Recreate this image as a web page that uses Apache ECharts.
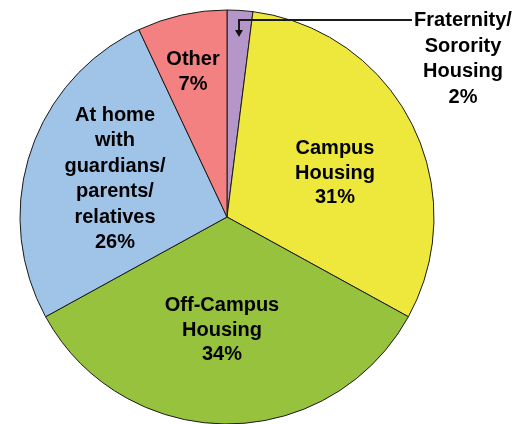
<!DOCTYPE html>
<html>
<head>
<meta charset="utf-8">
<script src="https://cdn.jsdelivr.net/npm/echarts@6/dist/echarts.min.js"></script>
<style>
  html, body { margin: 0; padding: 0; background: #fff; }
  #chart { width: 527px; height: 424px; }
</style>
</head>
<body>
<div id="chart"></div>
<script>
var categories = [
  'Fraternity/\nSorority\nHousing',
  'Campus\nHousing',
  'Off-Campus\nHousing',
  'At home\nwith\nguardians/\nparents/\nrelatives',
  'Other'
];
var shares = [2, 31, 34, 26, 7];

var sliceColors = ['#B596C8', '#EEE83D', '#97C23D', '#A0C4E8', '#F38181'];
// where each label block sits (centre)
var labelSpots = [[463, 59], [335, 173], [222, 330], [115, 179], [193, 72]];
var lineHeights = [25.5, 24.5, 24.5, 25.5, 25.5];

var chart = echarts.init(document.getElementById('chart'));

chart.setOption({
  animation: false,
  graphic: [{
    // callout arrow for the small slice
    type: 'polyline',
    shape: { points: [[412, 20], [239, 20], [239, 31]] },
    style: { stroke: '#1a1a1a', lineWidth: 2, fill: null },
    z: 100
  }, {
    type: 'polygon',
    shape: { points: [[235, 30], [243, 30], [239, 37]] },
    style: { fill: '#111' },
    z: 100
  }],
  series: [{
    type: 'pie',
    center: [227, 217],
    radius: 207,
    startAngle: 90,
    clockwise: true,
    avoidLabelOverlap: false,
    itemStyle: { borderColor: '#1a1a1a', borderWidth: 1 },
    label: {
      show: true,
      position: 'inside',
      formatter: '{b}\n{c}%',
      color: '#000',
      fontWeight: 'bold',
      fontSize: 20,
      fontFamily: 'Liberation Sans, Arial, sans-serif',
      align: 'center'
    },
    labelLine: { show: false },
    emphasis: { disabled: true },
    labelLayout: function (params) {
      var i = params.dataIndex;
      return {
        x: labelSpots[i][0],
        y: labelSpots[i][1],
        align: 'center',
        verticalAlign: 'middle'
      };
    },
    data: categories.map(function (name, i) {
      return {
        name: name,
        value: shares[i],
        itemStyle: { color: sliceColors[i] },
        label: { lineHeight: lineHeights[i] }
      };
    })
  }]
});
</script>
</body>
</html>
